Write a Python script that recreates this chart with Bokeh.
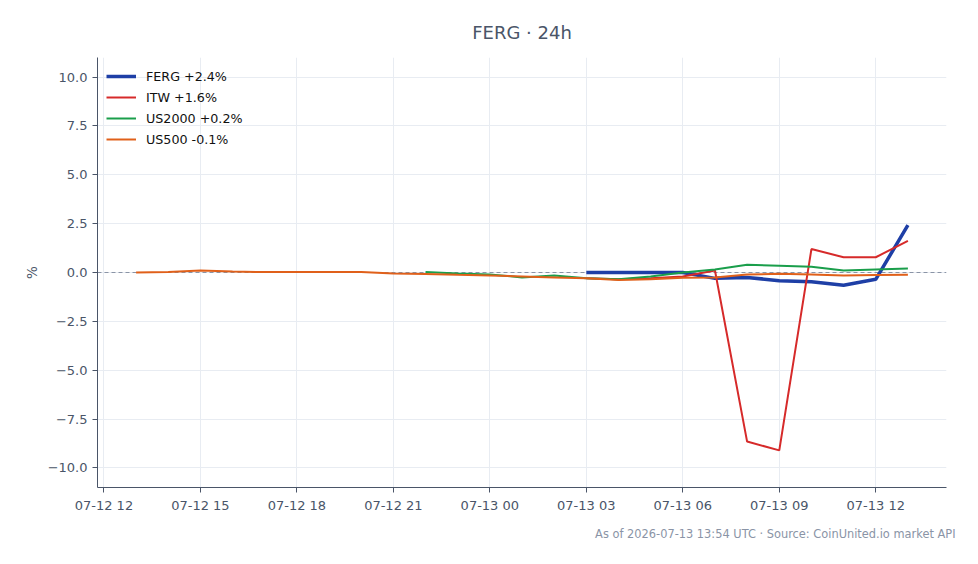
from datetime import datetime, timedelta
from bokeh.plotting import figure
from bokeh.models import (Range1d, FixedTicker, DatetimeTickFormatter, CustomJSTickFormatter,
                          Span, Title, Legend, LegendItem)
from bokeh.embed import file_html
from bokeh.resources import INLINE

FONT = "DejaVu Sans"
TXT = "#4a5568"

start = datetime(2026, 7, 12, 13, 0)
hours = [start + timedelta(hours=i) for i in range(25)]

us500 = [0.0, 0.03, 0.1, 0.05, 0.02, 0.03, 0.03, 0.03, -0.05, -0.08, -0.12, -0.15, -0.2,
         -0.25, -0.3, -0.38, -0.35, -0.27, -0.25, -0.1, -0.07, -0.1, -0.15, -0.13, -0.12]
us2000 = [0.03, -0.05, -0.1, -0.25, -0.15, -0.3, -0.35, -0.2, 0.0, 0.15, 0.4, 0.35, 0.3,
          0.1, 0.15, 0.2]
ferg = [0.0, 0.0, 0.0, 0.0, -0.3, -0.25, -0.42, -0.47, -0.65, -0.35, 2.42]
itw = [-0.3, -0.35, -0.3, -0.2, 0.1, -8.65, -9.1, 1.2, 0.78, 0.78, 1.62]

t_us500 = hours
t_us2000 = hours[9:]
t_ferg = hours[14:]
t_itw = hours[14:]

names = ["FERG +2.4%", "ITW +1.6%", "US2000 +0.2%", "US500 -0.1%"]
colors = ["#1e3fa6", "#d62a2a", "#1a9e4b", "#e0601a"]
widths = [3.5, 2, 2, 2]

tick_times = [datetime(2026, 7, 12, 12, 0) + timedelta(hours=3 * i) for i in range(9)]
tick_ms = [(t - datetime(1970, 1, 1)).total_seconds() * 1000 for t in tick_times]
y_ticks = [-10, -7.5, -5, -2.5, 0, 2.5, 5, 7.5, 10]

p = figure(width=978, height=564, x_axis_type="datetime", output_backend="svg",
           toolbar_location=None, y_range=Range1d(-11, 11),
           min_border_left=97, min_border_right=32, min_border_top=57, min_border_bottom=77)

p.title.text = "FERG · 24h"
p.title.align = "center"
p.title.text_font = FONT
p.title.text_font_size = "18px"
p.title.text_font_style = "normal"
p.title.text_color = TXT
p.title.standoff = 29

p.outline_line_color = None
p.background_fill_color = "white"
p.border_fill_color = "white"

p.add_layout(Span(location=0, dimension="width", line_color="#8a94a6", line_dash="4 3",
                  line_width=1, level="underlay"))

series = [(t_ferg, ferg), (t_itw, itw), (t_us2000, us2000), (t_us500, us500)]
renderers = []
for (xs, ys), c, w in zip(series, colors, widths):
    renderers.append(p.line(xs, ys, line_color=c, line_width=w))

legend = Legend(items=[LegendItem(label=n, renderers=[r]) for n, r in zip(names, renderers)],
                location="top_left", border_line_alpha=0, background_fill_alpha=0,
                label_text_font=FONT, label_text_font_size="12.7px", label_text_color="#111111",
                glyph_width=30, glyph_height=20, label_height=20, spacing=1,
                label_standoff=10, margin=6, padding=3)
p.add_layout(legend)

for ax in (p.xaxis[0], p.yaxis[0]):
    ax.axis_line_color = TXT
    ax.major_tick_line_color = TXT
    ax.minor_tick_line_color = None
    ax.major_tick_out = 5
    ax.major_tick_in = 0
    ax.major_label_text_font = FONT
    ax.major_label_text_font_size = "13px"
    ax.major_label_text_color = TXT

p.xaxis.ticker = FixedTicker(ticks=tick_ms)
p.xaxis.formatter = DatetimeTickFormatter(hours="%m-%d %H", days="%m-%d %H", hourmin="%m-%d %H")
p.yaxis.ticker = FixedTicker(ticks=y_ticks)
p.yaxis.formatter = CustomJSTickFormatter(
    code="return (tick < 0 ? '\u2212' : '') + Math.abs(tick).toFixed(1);")
p.yaxis.axis_label = "%"
p.yaxis.axis_label_text_font = FONT
p.yaxis.axis_label_text_font_size = "13.5px"
p.yaxis.axis_label_text_font_style = "normal"
p.yaxis.axis_label_text_color = TXT

p.xgrid.grid_line_color = "#e8ecf2"
p.ygrid.grid_line_color = "#e8ecf2"

p.add_layout(Title(text="As of 2026-07-13 13:54 UTC · Source: CoinUnited.io market API",
                   align="right", text_font=FONT, text_font_size="11.4px",
                   text_font_style="normal", text_color="#8a94a6", standoff=18, offset=-9), "below")

open("out.html", "w").write(file_html(p, INLINE))
